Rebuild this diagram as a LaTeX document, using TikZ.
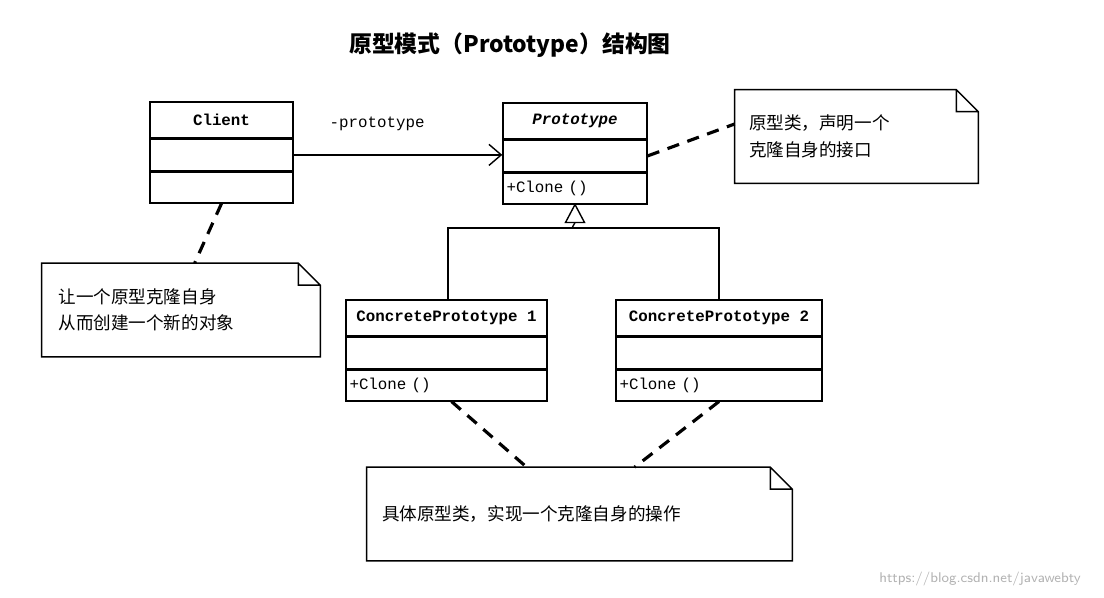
\documentclass[tikz,border=0pt]{standalone}
\usepackage{fontspec}
\setmonofont{Liberation Mono}
\newfontfamily\cjk{Noto Sans CJK SC}
\usetikzlibrary{positioning,arrows.meta}

\tikzset{
	part/.style={draw, thick, inner sep=0pt, minimum height=0.62cm, font=\ttfamily\fontsize{9}{10}\selectfont},
	head/.style={part, minimum height=0.72cm, font=\ttfamily\bfseries\fontsize{9}{10}\selectfont},
	op/.style={part, text width=#1-4pt, align=left, inner sep=2pt},
	memo/.style={inner sep=0pt, minimum height=1.86cm, font=\cjk\fontsize{10}{15}\selectfont, align=left},
	link/.style={line width=1.8pt, dash pattern=on 7pt off 5pt},
}

\begin{document}
\begin{tikzpicture}
		\useasboundingbox (0,0) rectangle (22.08,-11.96);

		\node [font=\cjk\bfseries\fontsize{13}{15}\selectfont] (title) at (10.2,-0.9) {原型模式（\textbf{Prototype}）结构图};

		% Client
		\node [head, minimum width=2.86cm] (client) at (4.43,-2.4) {Client};
		\node [part, minimum width=2.86cm, below=0pt of client] (client2) {};
		\node [part, minimum width=2.86cm, below=0pt of client2] (client3) {};

		% Prototype
		\node [head, minimum width=2.88cm, font=\ttfamily\bfseries\itshape\fontsize{9}{10}\selectfont] (proto) at (11.5,-2.42) {Prototype};
		\node [part, minimum width=2.88cm, below=0pt of proto] (proto2) {};
		\node [op=2.88cm, below=0pt of proto2] (proto3) {+Clone ()};

		% concrete classes
		\node [head, minimum width=4.02cm] (cp1) at (8.93,-6.36) {ConcretePrototype 1};
		\node [part, minimum width=4.02cm, below=0pt of cp1] (cp12) {};
		\node [op=4.02cm, below=0pt of cp12] (cp13) {+Clone ()};
		\node [head, minimum width=4.12cm] (cp2) at (14.38,-6.36) {ConcretePrototype 2};
		\node [part, minimum width=4.12cm, below=0pt of cp2] (cp22) {};
		\node [op=4.12cm, below=0pt of cp22] (cp23) {+Clone ()};

		% notes
		\node [memo, minimum width=4.86cm, text width=4.3cm] (noteA) at (17.13,-2.73) {原型类，声明一个\\克隆自身的接口};
		\node [memo, minimum width=5.56cm, text width=4.9cm] (noteB) at (3.62,-6.2) {让一个原型克隆自身\\从而创建一个新的对象};
		\node [memo, minimum width=8.5cm, text width=7.9cm] (noteC) at (11.59,-10.28) {具体原型类，实现一个克隆自身的操作};
		\foreach \n in {noteA,noteB,noteC}
			\draw [thick] (\n.north west) -- ([xshift=-0.44cm]\n.north east) -- ([yshift=-0.44cm]\n.north east) -- (\n.south east) -- (\n.south west) -- cycle
				([xshift=-0.44cm]\n.north east) |- ([yshift=-0.44cm]\n.north east);

		% association
		\draw [thick, -{Straight Barb[length=7pt, width=12pt]}] (client2.east) -- node [above=0.35cm, pos=0.4, font=\ttfamily\fontsize{9}{10}\selectfont] {-prototype} (client2.east -| proto2.west);

		% generalization
		\coordinate (fork) at (11.44,-4.56);
		\draw [thick] (cp1.north) ++(0.03,0) |- (fork) -| (cp2.north);
		\draw [thick, fill=white] (proto3.south) -- ++(0.19,-0.36) -- ++(-0.38,0) -- cycle;
		\draw [thick] ([yshift=-0.36cm]proto3.south) -- (fork);

		% note links
		\draw [link] (proto2.east) -- ([yshift=0.25cm]noteA.west);
		\draw [link] (client3.south) -- ([xshift=3.06cm]noteB.north west);
		\draw [link] ([xshift=0.1cm]cp13.south) -- ([xshift=3.2cm]noteC.north west);
		\draw [link] (cp23.south) -- ([xshift=5.36cm]noteC.north west);

		\node [text=gray!60, font=\sffamily\fontsize{8}{9}\selectfont] (mark) at (19.6,-11.58) {https://blog.csdn.net/javawebty};
	\end{tikzpicture}
\end{document}
